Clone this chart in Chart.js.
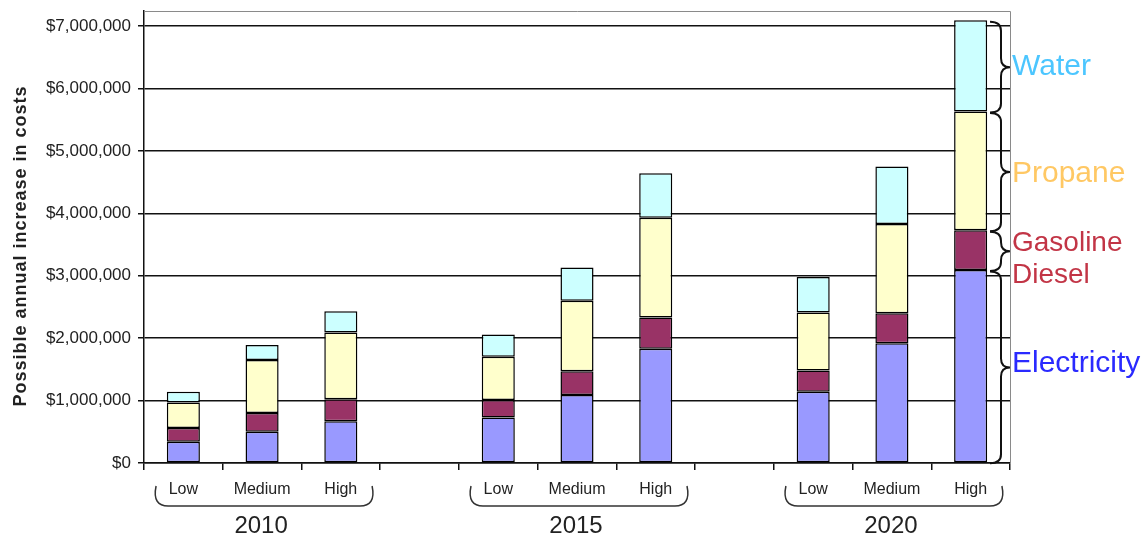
<!DOCTYPE html>
<html>
<head>
<meta charset="utf-8">
<script src="https://cdn.jsdelivr.net/npm/chart.js@4/dist/chart.umd.min.js"></script>
<style>
  html, body { margin: 0; padding: 0; background: #fff; }
  #wrap { width: 1145px; height: 537px; }
</style>
</head>
<body>
<div id="wrap"><canvas id="c" width="1145" height="537"></canvas></div>
<script>
// Scenario categories; empty strings leave a gap between the year groups
const categories = ['Low', 'Medium', 'High', '', 'Low', 'Medium', 'High', '', 'Low', 'Medium', 'High'];
const years = ['2010', '2015', '2020'];
const yearCenterIndex = [1, 5, 9];

// Possible annual increase in costs (USD) by fuel type
const electricity = [340000, 500000, 670000, null, 730000, 1090000, 1830000, null, 1140000, 1920000, 3090000];
const gasolineDiesel = [220000, 300000, 350000, null, 280000, 380000, 500000, null, 340000, 480000, 640000];
const propane = [410000, 850000, 1070000, null, 690000, 1130000, 1600000, null, 930000, 1430000, 1900000];
const water = [170000, 240000, 340000, null, 360000, 530000, 710000, null, 570000, 920000, 1460000];

const yTicks = [0, 1000000, 2000000, 3000000, 4000000, 5000000, 6000000, 7000000];

// Brace labels on the right side, one per stack segment of the last bar
const sideLabels = [
  { dataset: 3, lines: ['Water'], color: '#4cc6ff', size: 30, offsets: [0] },
  { dataset: 2, lines: ['Propane'], color: '#ffc864', size: 30, offsets: [2] },
  { dataset: 1, lines: ['Gasoline', 'Diesel'], color: '#c23546', size: 28, offsets: [-8, 24] },
  { dataset: 0, lines: ['Electricity'], color: '#2a2aff', size: 30, offsets: [-4] }
];

const FONT = '"Liberation Sans", Arial, Helvetica, sans-serif';

function curlyBrace(ctx, xEnd, xSpine, xTip, y0, y1) {
  const ym = (y0 + y1) / 2;
  const r = Math.min(9, (y1 - y0) / 4);
  ctx.beginPath();
  ctx.moveTo(xEnd, y0);
  ctx.quadraticCurveTo(xSpine, y0, xSpine, y0 + r);
  ctx.lineTo(xSpine, ym - r);
  ctx.quadraticCurveTo(xSpine, ym, xTip, ym);
  ctx.quadraticCurveTo(xSpine, ym, xSpine, ym + r);
  ctx.lineTo(xSpine, y1 - r);
  ctx.quadraticCurveTo(xSpine, y1, xEnd, y1);
  ctx.stroke();
}

function groupBracket(ctx, xL, xR, yTop, yBot) {
  ctx.beginPath();
  ctx.moveTo(xL, yTop);
  ctx.bezierCurveTo(xL - 3, yBot - 6, xL + 2, yBot, xL + 12, yBot);
  ctx.lineTo(xR - 12, yBot);
  ctx.bezierCurveTo(xR - 2, yBot, xR + 3, yBot - 6, xR, yTop);
  ctx.stroke();
}

const decorations = {
  id: 'decorations',
  afterDraw(chart) {
    const { ctx, chartArea, scales } = chart;
    const x = scales.x;
    ctx.save();

    // thin grey frame on top and right of the plot area
    ctx.strokeStyle = '#8a8a8a';
    ctx.lineWidth = 1;
    ctx.beginPath();
    ctx.moveTo(chartArea.left, chartArea.top + 0.5);
    ctx.lineTo(chartArea.right + 0.5, chartArea.top + 0.5);
    ctx.lineTo(chartArea.right + 0.5, chartArea.bottom);
    ctx.stroke();

    // y axis title
    ctx.save();
    ctx.translate(21, 246);
    ctx.rotate(-Math.PI / 2);
    ctx.fillStyle = '#222';
    ctx.font = 'bold 18px ' + FONT;
    ctx.letterSpacing = '1px';
    ctx.textAlign = 'center';
    ctx.textBaseline = 'middle';
    ctx.fillText('Possible annual increase in costs', 0, 0);
    ctx.restore();

    // year groups: bracket + year label
    ctx.strokeStyle = '#333';
    ctx.lineWidth = 1.5;
    ctx.fillStyle = '#222';
    ctx.font = '24px ' + FONT;
    ctx.textAlign = 'center';
    ctx.textBaseline = 'middle';
    years.forEach((yr, i) => {
      const cx = x.getPixelForValue(yearCenterIndex[i]) + 2;
      groupBracket(ctx, cx - 108, cx + 108, 486, 506);
      ctx.fillText(yr, cx - 3, 526);
    });

    // curly braces and labels beside the last bar
    const last = categories.length - 1;
    ctx.strokeStyle = '#111';
    ctx.lineWidth = 2;
    ctx.textAlign = 'left';
    sideLabels.forEach(lbl => {
      const bar = chart.getDatasetMeta(lbl.dataset).data[last];
      const y0 = Math.min(bar.y, bar.base) + 1.5;
      const y1 = Math.max(bar.y, bar.base) + 1;
      curlyBrace(ctx, 990, 1001, 1010, y0, y1);
      const ym = (y0 + y1) / 2;
      ctx.fillStyle = lbl.color;
      ctx.font = lbl.size + 'px ' + FONT;
      lbl.lines.forEach((t, k) => ctx.fillText(t, 1012, ym + lbl.offsets[k]));
    });
    ctx.restore();
  }
};

const seg = (label, data, color) => ({
  label, data,
  backgroundColor: color,
  borderColor: '#000',
  borderWidth: 1.5,
  borderSkipped: false,
  barPercentage: 0.42,
  categoryPercentage: 1.0
});

new Chart(document.getElementById('c'), {
  type: 'bar',
  data: {
    labels: categories,
    datasets: [
      seg('Electricity', electricity, '#9999ff'),
      seg('Gasoline Diesel', gasolineDiesel, '#993366'),
      seg('Propane', propane, '#ffffcc'),
      seg('Water', water, '#ccffff')
    ]
  },
  options: {
    responsive: false,
    animation: false,
    devicePixelRatio: 1,
    layout: { padding: { left: 0, right: 135, top: 11, bottom: 0 } },
    plugins: { legend: { display: false }, tooltip: { enabled: false } },
    scales: {
      x: {
        stacked: true,
        afterFit(s) { s.height = 74; },
        grid: { drawOnChartArea: false, drawTicks: true, tickLength: 7, color: '#111', lineWidth: 1.5, offset: true },
        border: { display: true, color: '#111', width: 1.5 },
        ticks: { color: '#222', font: { family: FONT, size: 16 }, padding: 10, maxRotation: 0, autoSkip: false }
      },
      y: {
        stacked: true,
        min: 0,
        max: 7240000,
        afterFit(s) { s.width = 144; s.paddingTop = 0; s.paddingBottom = 0; },
        afterBuildTicks(s) { s.ticks = yTicks.map(v => ({ value: v })); },
        grid: { color: '#111', lineWidth: 1.5, drawTicks: true, tickLength: 6 },
        border: { display: true, color: '#111', width: 1.5 },
        ticks: {
          color: '#222',
          padding: 7,
          font: { family: FONT, size: 17 },
          callback: v => '$' + Number(v).toLocaleString('en-US')
        }
      }
    }
  },
  plugins: [decorations]
});
</script>
</body>
</html>
